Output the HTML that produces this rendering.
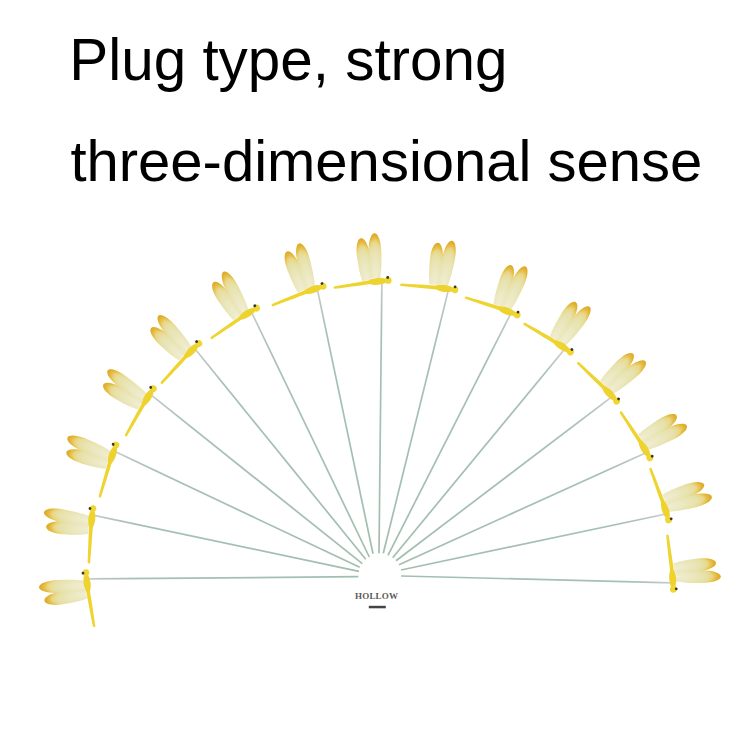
<!DOCTYPE html>
<html><head><meta charset="utf-8"><style>
html,body{margin:0;padding:0;background:#fff;width:750px;height:750px;overflow:hidden}
svg{display:block}
.st{stroke-width:1.7;fill:none}
.st2{stroke:#c4cccb;stroke-width:1.6;fill:none}
.t{font-family:"Liberation Sans",sans-serif;fill:#000}
.h{font-family:"Liberation Serif",serif;font-weight:bold;font-size:9px;fill:#5a5a5a;letter-spacing:0.2px}
</style></head><body>
<svg width="750" height="750" viewBox="0 0 750 750">
<defs>
<radialGradient id="wg" cx="0" cy="0.5" r="1" fx="0" fy="0.5">
  <stop offset="0" stop-color="#f1eed4"/>
  <stop offset="0.45" stop-color="#eae6bb"/>
  <stop offset="0.70" stop-color="#e6e0a6"/>
  <stop offset="0.81" stop-color="#e9d684"/>
  <stop offset="0.88" stop-color="#e5c24e"/>
  <stop offset="0.95" stop-color="#e0b02e"/>
  <stop offset="1" stop-color="#dca724"/>
</radialGradient>
<g id="df">
  <path d="M0,-4.68 C6.36,-6.17 14.84,-6.50 24.59,-6.50 C35.19,-6.37 42.40,-3.58 42.40,0 C42.40,3.58 35.19,6.37 24.59,6.50 C14.84,6.50 6.36,6.17 0,4.68 Z" fill="url(#wg)" transform="translate(1.3,15.0) rotate(8.3)"/>
  <path d="M0,-4.61 C6.78,-6.08 15.82,-6.40 26.22,-6.40 C37.52,-6.27 45.20,-3.52 45.20,0 C45.20,3.52 37.52,6.27 26.22,6.40 C15.82,6.40 6.78,6.08 0,4.61 Z" fill="url(#wg)" transform="translate(3.2,6.3) rotate(1.6)"/>
  <path d="M1.5,11 C0.1,20 -3.5,40 -4.7,47.2 Q-5.9,49.4 -7.3,47.4 C-6.3,40 -3.7,20 -2.3,11 Z" fill="#eed430"/>
  <ellipse cx="0" cy="0" rx="3.5" ry="9.6" fill="#eed22e" transform="translate(0.3,4.2) rotate(6)"/>
  <circle cx="1.3" cy="-6.3" r="3.4" fill="#efd634"/>
  <circle cx="4.2" cy="-5.8" r="1.4" fill="#3a3320"/>
</g>
<linearGradient id="s0" gradientUnits="userSpaceOnUse" x1="358.30" y1="576.70" x2="87.30" y2="578.93"><stop offset="0" stop-color="#a2beaf"/><stop offset="0.834" stop-color="#a7c0b3"/><stop offset="0.948" stop-color="#bac6c2"/><stop offset="1" stop-color="#c9cfcf"/></linearGradient>
<linearGradient id="s1" gradientUnits="userSpaceOnUse" x1="359.00" y1="571.30" x2="92.90" y2="515.05"><stop offset="0" stop-color="#a2beaf"/><stop offset="0.835" stop-color="#a7c0b3"/><stop offset="0.949" stop-color="#bac6c2"/><stop offset="1" stop-color="#c9cfcf"/></linearGradient>
<linearGradient id="s2" gradientUnits="userSpaceOnUse" x1="359.70" y1="567.30" x2="114.45" y2="451.33"><stop offset="0" stop-color="#a2beaf"/><stop offset="0.834" stop-color="#a7c0b3"/><stop offset="0.948" stop-color="#bac6c2"/><stop offset="1" stop-color="#c9cfcf"/></linearGradient>
<linearGradient id="s3" gradientUnits="userSpaceOnUse" x1="362.30" y1="563.70" x2="150.43" y2="394.46"><stop offset="0" stop-color="#a2beaf"/><stop offset="0.834" stop-color="#a7c0b3"/><stop offset="0.948" stop-color="#bac6c2"/><stop offset="1" stop-color="#c9cfcf"/></linearGradient>
<linearGradient id="s4" gradientUnits="userSpaceOnUse" x1="365.70" y1="559.30" x2="194.72" y2="348.51"><stop offset="0" stop-color="#a2beaf"/><stop offset="0.834" stop-color="#a7c0b3"/><stop offset="0.948" stop-color="#bac6c2"/><stop offset="1" stop-color="#c9cfcf"/></linearGradient>
<linearGradient id="s5" gradientUnits="userSpaceOnUse" x1="369.30" y1="557.00" x2="251.41" y2="312.01"><stop offset="0" stop-color="#a2beaf"/><stop offset="0.834" stop-color="#a7c0b3"/><stop offset="0.949" stop-color="#bac6c2"/><stop offset="1" stop-color="#c9cfcf"/></linearGradient>
<linearGradient id="s6" gradientUnits="userSpaceOnUse" x1="373.00" y1="553.70" x2="317.27" y2="288.88"><stop offset="0" stop-color="#a2beaf"/><stop offset="0.834" stop-color="#a7c0b3"/><stop offset="0.948" stop-color="#bac6c2"/><stop offset="1" stop-color="#c9cfcf"/></linearGradient>
<linearGradient id="s7" gradientUnits="userSpaceOnUse" x1="379.00" y1="553.30" x2="381.88" y2="281.68"><stop offset="0" stop-color="#a2beaf"/><stop offset="0.834" stop-color="#a7c0b3"/><stop offset="0.948" stop-color="#bac6c2"/><stop offset="1" stop-color="#c9cfcf"/></linearGradient>
<linearGradient id="s8" gradientUnits="userSpaceOnUse" x1="383.30" y1="553.30" x2="448.49" y2="289.66"><stop offset="0" stop-color="#a2beaf"/><stop offset="0.834" stop-color="#a7c0b3"/><stop offset="0.948" stop-color="#bac6c2"/><stop offset="1" stop-color="#c9cfcf"/></linearGradient>
<linearGradient id="s9" gradientUnits="userSpaceOnUse" x1="388.00" y1="555.30" x2="510.94" y2="313.30"><stop offset="0" stop-color="#a2beaf"/><stop offset="0.834" stop-color="#a7c0b3"/><stop offset="0.948" stop-color="#bac6c2"/><stop offset="1" stop-color="#c9cfcf"/></linearGradient>
<linearGradient id="s10" gradientUnits="userSpaceOnUse" x1="392.70" y1="557.70" x2="564.75" y2="349.07"><stop offset="0" stop-color="#a2beaf"/><stop offset="0.834" stop-color="#a7c0b3"/><stop offset="0.948" stop-color="#bac6c2"/><stop offset="1" stop-color="#c9cfcf"/></linearGradient>
<linearGradient id="s11" gradientUnits="userSpaceOnUse" x1="396.00" y1="560.70" x2="611.73" y2="396.87"><stop offset="0" stop-color="#a2beaf"/><stop offset="0.834" stop-color="#a7c0b3"/><stop offset="0.948" stop-color="#bac6c2"/><stop offset="1" stop-color="#c9cfcf"/></linearGradient>
<linearGradient id="s12" gradientUnits="userSpaceOnUse" x1="399.00" y1="564.70" x2="645.97" y2="452.68"><stop offset="0" stop-color="#a2beaf"/><stop offset="0.834" stop-color="#a7c0b3"/><stop offset="0.948" stop-color="#bac6c2"/><stop offset="1" stop-color="#c9cfcf"/></linearGradient>
<linearGradient id="s13" gradientUnits="userSpaceOnUse" x1="401.00" y1="570.00" x2="665.92" y2="513.96"><stop offset="0" stop-color="#a2beaf"/><stop offset="0.834" stop-color="#a7c0b3"/><stop offset="0.948" stop-color="#bac6c2"/><stop offset="1" stop-color="#c9cfcf"/></linearGradient>
<linearGradient id="s14" gradientUnits="userSpaceOnUse" x1="401.00" y1="576.00" x2="672.25" y2="582.90"><stop offset="0" stop-color="#a2beaf"/><stop offset="0.834" stop-color="#a7c0b3"/><stop offset="0.948" stop-color="#bac6c2"/><stop offset="1" stop-color="#c9cfcf"/></linearGradient></defs>
<text class="t" x="69.3" y="79.5" font-size="58.4">Plug type, strong</text>
<text class="t" x="70.4" y="180.7" font-size="58.0">three-dimensional sense</text>
<path d="M358.30,576.70 L87.30,578.93" stroke="url(#s0)" class="st"/>
<path d="M359.00,571.30 L92.90,515.05" stroke="url(#s1)" class="st"/>
<path d="M359.70,567.30 L114.45,451.33" stroke="url(#s2)" class="st"/>
<path d="M362.30,563.70 L150.43,394.46" stroke="url(#s3)" class="st"/>
<path d="M365.70,559.30 L194.72,348.51" stroke="url(#s4)" class="st"/>
<path d="M369.30,557.00 L251.41,312.01" stroke="url(#s5)" class="st"/>
<path d="M373.00,553.70 L317.27,288.88" stroke="url(#s6)" class="st"/>
<path d="M379.00,553.30 L381.88,281.68" stroke="url(#s7)" class="st"/>
<path d="M383.30,553.30 L448.49,289.66" stroke="url(#s8)" class="st"/>
<path d="M388.00,555.30 L510.94,313.30" stroke="url(#s9)" class="st"/>
<path d="M392.70,557.70 L564.75,349.07" stroke="url(#s10)" class="st"/>
<path d="M396.00,560.70 L611.73,396.87" stroke="url(#s11)" class="st"/>
<path d="M399.00,564.70 L645.97,452.68" stroke="url(#s12)" class="st"/>
<path d="M401.00,570.00 L665.92,513.96" stroke="url(#s13)" class="st"/>
<path d="M401.00,576.00 L672.25,582.90" stroke="url(#s14)" class="st"/>
<use href="#df" transform="translate(87.30,578.93) rotate(179.020) scale(1,-1)"/>
<use href="#df" transform="translate(92.90,515.05) rotate(192.050) scale(1,-1)"/>
<use href="#df" transform="translate(114.45,451.33) rotate(205.080) scale(1,-1)"/>
<use href="#df" transform="translate(150.43,394.46) rotate(218.110) scale(1,-1)"/>
<use href="#df" transform="translate(194.72,348.51) rotate(231.140) scale(1,-1)"/>
<use href="#df" transform="translate(251.41,312.01) rotate(244.170) scale(1,-1)"/>
<use href="#df" transform="translate(317.27,288.88) rotate(257.200) scale(1,-1)"/>
<use href="#df" transform="translate(381.88,281.68) rotate(270.230) scale(1,-1)"/>
<use href="#df" transform="translate(448.49,289.66) rotate(283.260) scale(1,-1)"/>
<use href="#df" transform="translate(510.94,313.30) rotate(296.290) scale(1,-1)"/>
<use href="#df" transform="translate(564.75,349.07) rotate(309.320) scale(1,-1)"/>
<use href="#df" transform="translate(611.73,396.87) rotate(322.350) scale(1,-1)"/>
<use href="#df" transform="translate(645.97,452.68) rotate(335.380) scale(1,-1)"/>
<use href="#df" transform="translate(665.92,513.96) rotate(348.410) scale(1,-1)"/>
<use href="#df" transform="translate(672.25,582.90) rotate(361.440) scale(1,-1)"/>
<text class="h" x="376.6" y="598.9" text-anchor="middle">HOLLOW</text>
<rect x="368.8" y="605.8" width="17" height="2.5" fill="#444"/>
</svg>
</body></html>
